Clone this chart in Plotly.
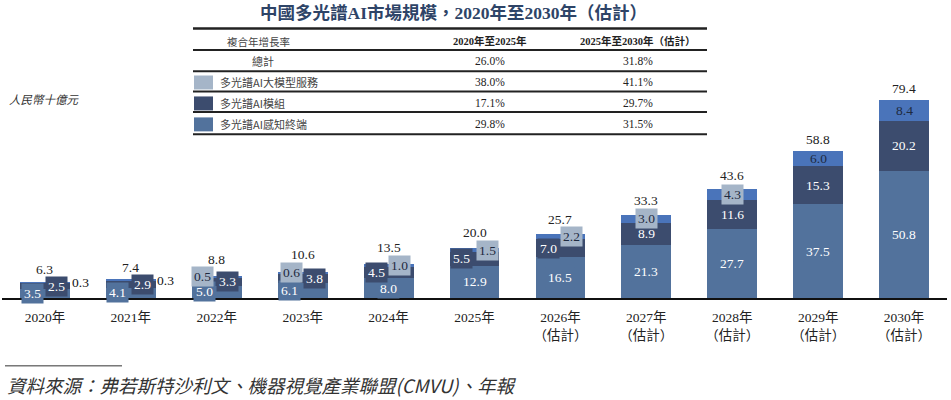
import plotly.graph_objects as go

# ---------------- data ----------------
years = ["2020年", "2021年", "2022年", "2023年", "2024年", "2025年",
         "2026年<br>（估計）", "2027年<br>（估計）", "2028年<br>（估計）",
         "2029年<br>（估計）", "2030年<br>（估計）"]
terminal = [3.5, 4.1, 5.0, 6.1, 8.0, 12.9, 16.5, 21.3, 27.7, 37.5, 50.8]   # 感知終端
module = [2.5, 2.9, 3.3, 3.8, 4.5, 5.5, 7.0, 8.9, 11.6, 15.3, 20.2]        # 模組
llm = [0.3, 0.3, 0.5, 0.6, 1.0, 1.5, 2.2, 3.0, 4.3, 6.0, 8.4]              # 大模型服務
totals = [6.3, 7.4, 8.8, 10.6, 13.5, 20.0, 25.7, 33.3, 43.6, 58.8, 79.4]

cagr_header = ["複合年增長率", "2020年至2025年", "2025年至2030年（估計）"]
cagr_rows = ["總計", "多光譜AI大模型服務", "多光譜AI模組", "多光譜AI感知終端"]
cagr_2020_2025 = ["26.0%", "38.0%", "17.1%", "29.8%"]
cagr_2025_2030 = ["31.8%", "41.1%", "29.7%", "31.5%"]

title = "中國多光譜AI市場規模，2020年至2030年（估計）"
unit = "人民幣十億元"
source = "資料來源：弗若斯特沙利文、機器視覺產業聯盟(CMVU)、年報"

# ---------------- styles ----------------
C_TERM = "#52729C"
C_MOD = "#3C4C6E"
C_LLM = "#4A74BA"
C_LLM_BOX = "#A5B5C8"
FONT = "'Liberation Serif', 'Noto Sans CJK TC', serif"
CJK = "'Noto Sans CJK TC', 'Liberation Serif', sans-serif"

term_dx = [-12, -13, -12, -13, 0, 0, 0, 0, 0, 0, 0]
mod_dx = [12, 12, 11, 12, -12, -13, -12, 0, 0, 0, 0]
llm_dx = [36, 35, -14, -11, 11, 13, 11, 0, 0, 0, 0]
llm_style = ["plain", "plain", "box", "box", "box", "box", "box", "box", "box", "bar", "bar"]
total_dy = [3, 3, 7, 8, 7, 6, 5, 5, 4, 2, 2]

W, H = 951, 400
L, R, T, B = 2, 4, 72.5, 102
PW, PH = W - L - R, H - T - B


def px(x):
    return (x - L) / PW


def py(y):
    return (H - B - y) / PH


def paper_text(x, y, text, font, xanchor="center", yanchor="middle"):
    return dict(x=px(x), y=py(y), xref="paper", yref="paper", text=text, showarrow=False,
                xanchor=xanchor, yanchor=yanchor, font=font)


fig = go.Figure()
for name, vals, col in [("多光譜AI感知終端", terminal, C_TERM),
                        ("多光譜AI模組", module, C_MOD),
                        ("多光譜AI大模型服務", llm, C_LLM)]:
    fig.add_trace(go.Bar(x=years, y=vals, name=name, marker=dict(color=col, line=dict(width=0)),
                         hoverinfo="y+name"))

ann = []
shapes = []
for i, yr in enumerate(years):
    ann.append(dict(x=yr, y=terminal[i] / 2, xref="x", yref="y", text=f"{terminal[i]:.1f}",
                    showarrow=False, xanchor="center", yanchor="middle", xshift=term_dx[i],
                    bgcolor=C_TERM, borderpad=2, font=dict(family=FONT, size=13.5, color="white")))
    ann.append(dict(x=yr, y=terminal[i] + module[i] / 2, xref="x", yref="y", text=f"{module[i]:.1f}",
                    showarrow=False, xanchor="center", yanchor="middle", xshift=mod_dx[i],
                    bgcolor=C_MOD, borderpad=2, font=dict(family=FONT, size=13.5, color="white")))
    st = llm_style[i]
    a = dict(x=yr, y=terminal[i] + module[i] + llm[i] / 2, xref="x", yref="y", text=f"{llm[i]:.1f}",
             showarrow=False, xanchor="center", yanchor="middle", xshift=llm_dx[i], borderpad=2,
             font=dict(family=FONT, size=13.5, color="#1e2a40"))
    if st == "box":
        a["bgcolor"] = C_LLM_BOX
    elif st == "plain":
        a["font"]["color"] = "#111111"
    ann.append(a)
    ann.append(dict(x=yr, y=totals[i], xref="x", yref="y", text=f"{totals[i]:.1f}", showarrow=False,
                    xanchor="center", yanchor="bottom", yshift=total_dy[i],
                    font=dict(family=FONT, size=13.5, color="#222222")))

# title and unit
ann.append(paper_text(453, 12, f"<b>{title}</b>", dict(family=FONT, size=17.5, color="#2E4467")))
ann.append(paper_text(7, 99, f"<i>{unit}</i>", dict(family=CJK, size=11.5, color="#333333"), xanchor="left"))

# CAGR table
for yl, w in zip([28, 49.5, 70.7, 91, 111.7, 134], [2.5, 2, 2, 2, 2, 2]):
    shapes.append(dict(type="line", xref="paper", yref="paper", x0=px(193), x1=px(707), y0=py(yl), y1=py(yl),
                       line=dict(color="#222222", width=w)))
ann.append(paper_text(258, 40.5, cagr_header[0], dict(family=CJK, size=10.5, color="#444444")))
ann.append(paper_text(490, 40.5, f"<b>{cagr_header[1]}</b>", dict(family=FONT, size=10.5, color="#222222")))
ann.append(paper_text(638, 40.5, f"<b>{cagr_header[2]}</b>", dict(family=FONT, size=10.5, color="#222222")))
row_y = [60.7, 82, 103, 124]
sw_cols = [None, C_LLM_BOX, C_MOD, C_TERM]
for j, lab in enumerate(cagr_rows):
    yy = row_y[j]
    if j == 0:
        ann.append(paper_text(263, yy, lab, dict(family=CJK, size=11, color="#444444")))
    else:
        shapes.append(dict(type="rect", xref="paper", yref="paper", x0=px(194), x1=px(213),
                           y0=py(yy - 7), y1=py(yy + 7), fillcolor=sw_cols[j], line=dict(width=0)))
        ann.append(paper_text(218, yy, lab, dict(family=CJK, size=11, color="#444444"), xanchor="left"))
    ann.append(paper_text(490, yy, cagr_2020_2025[j], dict(family=FONT, size=11.5, color="#222222")))
    ann.append(paper_text(638, yy, cagr_2025_2030[j], dict(family=FONT, size=11.5, color="#222222")))

# footer
shapes.append(dict(type="line", xref="paper", yref="paper", x0=px(5), x1=px(122), y0=py(366), y1=py(366),
                   line=dict(color="#333333", width=1)))
ann.append(paper_text(5, 385, f"<i>{source}</i>", dict(family=CJK, size=18.5, color="#333333"), xanchor="left"))

fig.update_layout(
    width=W, height=H, barmode="stack", bargap=0.42,
    margin=dict(l=L, r=R, t=T, b=B),
    paper_bgcolor="white", plot_bgcolor="white", showlegend=False,
    annotations=ann, shapes=shapes,
    xaxis=dict(showline=True, linecolor="#111111", linewidth=1.5, showgrid=False, ticks="outside",
               ticklen=6, tickcolor="rgba(0,0,0,0)", tickfont=dict(family=FONT, size=13.5, color="#222222"),
               fixedrange=True),
    yaxis=dict(range=[0, 90], visible=False, fixedrange=True),
)

fig.write_html("out.html", config={"displayModeBar": False},
               post_script="document.body.style.margin='0';document.body.style.padding='0';"
                           "document.documentElement.style.overflow='hidden';")
